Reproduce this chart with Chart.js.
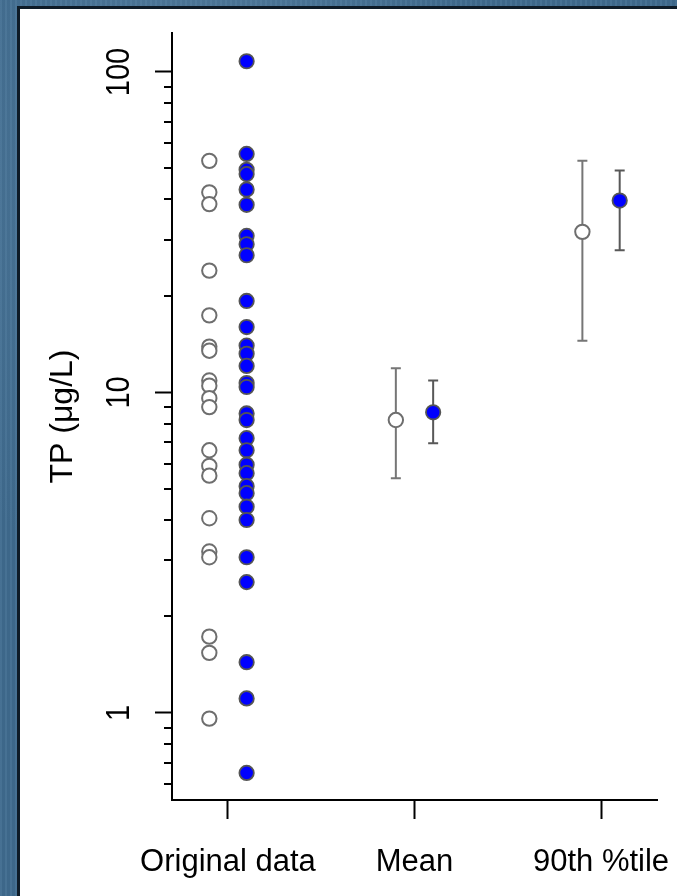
<!DOCTYPE html>
<html>
<head>
<meta charset="utf-8">
<script src="https://cdn.jsdelivr.net/npm/chart.js@4.4.1/dist/chart.umd.min.js"></script>
<style>
html,body{margin:0;padding:0;width:677px;height:896px;overflow:hidden;}
body{background-color:#3f6b8f;
 background-image:
  radial-gradient(ellipse at 30% 20%, rgba(120,160,190,0.35), transparent 45%),
  radial-gradient(ellipse at 70% 60%, rgba(20,50,80,0.35), transparent 50%),
  repeating-linear-gradient(90deg, rgba(255,255,255,0.04) 0 2px, rgba(0,0,0,0.04) 2px 5px);}
#panel{position:absolute;left:17px;top:6px;right:0;bottom:0;background:#fff;
 border-left:3px solid #0e1b27;border-top:3px solid #0e1b27;}
#wrap{position:absolute;left:0;top:0;width:677px;height:896px;}
</style>
</head>
<body>
<div id="panel"></div>
<div id="wrap"><canvas id="c"></canvas></div>
<script>
// ---- data ----
const categories = ['Original data', 'Mean', '90th %tile'];
const originalOpen = [52.8, 42.1, 38.7, 24.0, 17.4, 13.9, 13.5, 10.9, 10.5, 9.6, 9.0, 6.6, 5.9, 5.5, 4.05, 3.19, 3.06, 1.73, 1.54, 0.96];
const originalBlue = [108, 55.5, 49.5, 48.0, 43.0, 38.5, 30.8, 29.0, 26.8, 19.3, 16.0, 14.0, 13.2, 12.1, 10.7, 10.4, 8.6, 8.2, 7.2, 6.6, 5.95, 5.6, 5.1, 4.85, 4.4, 4.0, 3.06, 2.56, 1.44, 1.11, 0.65];
const statOpen = [8.2, 31.7];
const statOpenLow = [5.4, 14.5];
const statOpenHigh = [11.9, 52.8];
const statBlue = [8.67, 39.7];
const statBlueLow = [6.94, 27.8];
const statBlueHigh = [10.9, 49.3];
const yMajorTicks = [1, 10, 100];
const yMinorTicks = [0.6, 0.7, 0.8, 0.9, 2, 3, 4, 5, 6, 7, 8, 9, 20, 30, 40, 50, 60, 70, 80, 90];
const yTitle = 'TP (\u03BCg/L)';

const OFF = 0.1;
const FONT = '"Liberation Sans", Arial, sans-serif';

const errorBars = {
  id: 'errorBars',
  beforeDatasetsDraw(chart) {
    const {ctx, scales: {x, y}} = chart;
    const draw = (xv, lo, hi, color) => {
      const px = x.getPixelForValue(xv);
      const p1 = y.getPixelForValue(lo), p2 = y.getPixelForValue(hi);
      ctx.save();
      ctx.strokeStyle = color; ctx.lineWidth = 2;
      ctx.beginPath();
      ctx.moveTo(px, p1); ctx.lineTo(px, p2);
      ctx.moveTo(px - 5, p1); ctx.lineTo(px + 5, p1);
      ctx.moveTo(px - 5, p2); ctx.lineTo(px + 5, p2);
      ctx.stroke();
      ctx.restore();
    };
    statOpen.forEach((v, i) => draw(i + 2 - OFF, statOpenLow[i], statOpenHigh[i], '#767676'));
    statBlue.forEach((v, i) => draw(i + 2 + OFF, statBlueLow[i], statBlueHigh[i], '#585858'));
  },
  afterDraw(chart) {
    const {ctx, scales: {y}} = chart;
    const ax = chart.chartArea.left;
    ctx.save();
    ctx.strokeStyle = '#000'; ctx.lineWidth = 2;
    ctx.beginPath();
    yMinorTicks.forEach(v => {
      const py = Math.round(y.getPixelForValue(v));
      ctx.moveTo(ax - 8, py); ctx.lineTo(ax, py);
    });
    ctx.stroke();
    ctx.fillStyle = '#000';
    ctx.font = '29px ' + FONT;
    ctx.textAlign = 'center';
    ctx.textBaseline = 'alphabetic';
    yMajorTicks.forEach(v => {
      const py = y.getPixelForValue(v);
      ctx.save();
      ctx.translate(129, py);
      ctx.rotate(-Math.PI / 2);
      ctx.scale(1, 1.12);
      ctx.fillText(String(v), 0, 0);
      ctx.restore();
    });
    ctx.restore();
  }
};

new Chart(document.getElementById('c'), {
  type: 'scatter',
  data: {
    datasets: [
      { data: originalOpen.map(v => ({x: 1 - OFF, y: v})), backgroundColor: '#ffffff', borderColor: '#6e6e6e', borderWidth: 2, pointRadius: 7.2 },
      { data: originalBlue.map(v => ({x: 1 + OFF, y: v})), backgroundColor: '#0000ff', borderColor: '#555555', borderWidth: 1.8, pointRadius: 7.2 },
      { data: statOpen.map((v, i) => ({x: i + 2 - OFF, y: v})), backgroundColor: '#ffffff', borderColor: '#6e6e6e', borderWidth: 2, pointRadius: 7.2 },
      { data: statBlue.map((v, i) => ({x: i + 2 + OFF, y: v})), backgroundColor: '#0000ff', borderColor: '#555555', borderWidth: 1.8, pointRadius: 7.2 }
    ]
  },
  options: {
    responsive: true,
    maintainAspectRatio: false,
    animation: false,
    layout: { padding: { top: 33, right: 20, left: 0, bottom: 0 } },
    plugins: { legend: { display: false }, tooltip: { enabled: false } },
    scales: {
      x: {
        type: 'linear', min: 0.7, max: 3.3,
        afterBuildTicks: s => { s.ticks = categories.map((c, i) => ({value: i + 1})); },
        afterFit: s => { s.height = 96; s.paddingLeft = 0; s.paddingRight = 0; },
        ticks: { callback: (v, i) => categories[i], color: '#000', font: { family: FONT, size: 31 }, padding: 25, maxRotation: 0, autoSkip: false },
        grid: { drawOnChartArea: false, tickLength: 19, tickWidth: 2, tickColor: '#000' },
        border: { display: true, color: '#000', width: 2 }
      },
      y: {
        type: 'logarithmic', min: 0.535, max: 132.3,
        afterBuildTicks: s => { s.ticks = yMajorTicks.map(v => ({value: v})); },
        afterFit: s => { s.width = 172; s.paddingTop = 0; s.paddingBottom = 0; },
        ticks: { display: false },
        grid: { drawOnChartArea: false, tickLength: 17, tickWidth: 2, tickColor: '#000' },
        border: { display: true, color: '#000', width: 2 },
        title: { display: true, text: yTitle, color: '#000', font: { family: FONT, size: 32, lineHeight: 1.2 }, padding: { top: 44, bottom: 0 } }
      }
    }
  },
  plugins: [errorBars]
});
</script>
</body>
</html>
